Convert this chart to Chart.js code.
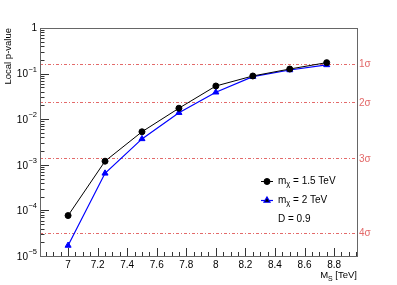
<!DOCTYPE html>
<html><head><meta charset="utf-8">
<script src="https://cdn.jsdelivr.net/npm/chart.js@4/dist/chart.umd.min.js"></script>
<style>html,body{margin:0;padding:0;background:#fff}</style>
</head><body>
<canvas id="c" width="397" height="285"></canvas>
<script>
const massPoints = [7, 7.25, 7.5, 7.75, 8, 8.25, 8.5, 8.75];
const pMchi15 = [7.7e-5, 1.2e-3, 5.3e-3, 0.0174, 0.0535, 0.0886, 0.126, 0.174];
const pMchi20 = [1.7e-5, 6.5e-4, 3.7e-3, 0.0139, 0.039, 0.0855, 0.12, 0.155];
const seriesNames = ['1.5 TeV', '2 TeV'];
const xTickValues = [7, 7.2, 7.4, 7.6, 7.8, 8, 8.2, 8.4, 8.6, 8.8];
const xTickLabels = ['7', '7.2', '7.4', '7.6', '7.8', '8', '8.2', '8.4', '8.6', '8.8'];
const yTickExponents = [-5, -4, -3, -2, -1, 0];
const sigmaPValues = [0.1587, 0.02275, 0.00135, 3.17e-5];
const sigmaLabels = ['1\u03C3', '2\u03C3', '3\u03C3', '4\u03C3'];

const FONT = '"Liberation Sans", Arial, Helvetica, sans-serif';
const SIGMA_COLOR = '#e36a6a';

const decor = {
  id: 'decor',
  afterDraw(chart) {
    const ctx = chart.ctx, a = chart.chartArea;
    const xs = chart.scales.x, ys = chart.scales.y;
    ctx.save();
    ctx.strokeStyle = '#333'; ctx.lineWidth = 1;
    ctx.beginPath();
    const x0 = Math.ceil(xs.min * 20), x1 = Math.floor(xs.max * 20);
    for (let k = x0; k <= x1; k++) {
      const v = k / 20;
      const px = Math.round(xs.getPixelForValue(v)) + 0.5;
      const major = (k % 4 === 0);
      const len = major ? 8 : 4;
      ctx.moveTo(px, a.bottom); ctx.lineTo(px, a.bottom - len);
    }
    for (const e of yTickExponents) {
      for (let m = 1; m <= 9; m++) {
        const v = m * Math.pow(10, e);
        if (v > ys.max * 1.0001) break;
        const py = Math.round(ys.getPixelForValue(v)) + 0.5;
        const len = m === 1 ? 9 : 4.5;
        ctx.moveTo(a.left, py); ctx.lineTo(a.left + len, py);
      }
    }
    ctx.stroke();
    ctx.strokeStyle = '#666';
    ctx.strokeRect(Math.round(a.left) + 0.5, Math.round(a.top) + 0.5, Math.round(a.right - a.left), Math.round(a.bottom - a.top));
    ctx.fillStyle = '#000';
    ctx.textBaseline = 'middle';
    ctx.textAlign = 'right';
    for (const e of yTickExponents) {
      const py = ys.getPixelForValue(Math.pow(10, e));
      const xr = a.left - 3;
      if (e === 0) {
        ctx.font = '10px ' + FONT;
        ctx.fillText('1', xr, py);
      } else {
        ctx.font = '7.5px ' + FONT;
        const sup = '\u2212' + (-e);
        const w = ctx.measureText(sup).width;
        ctx.fillText(sup, xr, py - 4);
        ctx.font = '10px ' + FONT;
        ctx.fillText('10', xr - w - 0.5, py + 1);
      }
    }
    ctx.save();
    ctx.translate(8, a.top);
    ctx.rotate(-Math.PI / 2);
    ctx.font = '9.5px ' + FONT;
    ctx.textAlign = 'right';
    ctx.textBaseline = 'middle';
    ctx.fillText('Local p-value', 0, 0);
    ctx.restore();
    ctx.textBaseline = 'alphabetic';
    ctx.textAlign = 'left';
    ctx.font = '9.5px ' + FONT;
    const t2 = ' [TeV]';
    const wT = ctx.measureText(t2).width;
    const wM = ctx.measureText('M').width;
    ctx.font = '7px ' + FONT;
    const wS = ctx.measureText('S').width;
    let tx = a.right - wT - wS - wM;
    const ty = 278;
    ctx.font = '9.5px ' + FONT;
    ctx.fillText('M', tx, ty);
    ctx.font = '7px ' + FONT;
    ctx.fillText('S', tx + wM, ty + 2.5);
    ctx.font = '9.5px ' + FONT;
    ctx.fillText(t2, tx + wM + wS, ty);
    const ds = chart.data.datasets;
    const lx = 261, lw = 12, tX = 278;
    const rows = [181, 200];
    ds.forEach((d, i) => {
      const y = rows[i];
      ctx.strokeStyle = d.borderColor; ctx.lineWidth = d.borderWidth;
      ctx.beginPath(); ctx.moveTo(lx, y + 0.5); ctx.lineTo(lx + lw, y + 0.5); ctx.stroke();
      Chart.helpers.drawPoint(ctx, {pointStyle: d.pointStyle, radius: d.pointRadius, borderWidth: 1}, lx + lw / 2, y + 0.5);
      ctx.fillStyle = '#000';
      ctx.textBaseline = 'middle';
      ctx.font = '10px ' + FONT;
      ctx.fillText('m', tX, y);
      const wm = ctx.measureText('m').width;
      ctx.font = '7.5px ' + FONT;
      ctx.fillText('\u03C7', tX + wm, y + 3);
      const wc = ctx.measureText('\u03C7').width;
      ctx.font = '10px ' + FONT;
      ctx.fillText(' = ' + seriesNames[i], tX + wm + wc, y);
    });
    ctx.fillStyle = '#000';
    ctx.font = '10px ' + FONT;
    ctx.fillText('D = 0.9', tX, 219);
    ctx.restore();
  }
};

function pts(ys) { return massPoints.map((x, i) => ({x: x, y: ys[i]})); }

new Chart(document.getElementById('c'), {
  type: 'line',
  data: {
    datasets: [
      {label: 'm_chi = 1.5 TeV', data: pts(pMchi15), borderColor: '#000', backgroundColor: '#000',
       borderWidth: 1, pointStyle: 'circle', pointRadius: 3, pointBorderWidth: 1, tension: 0},
      {label: 'm_chi = 2 TeV', data: pts(pMchi20), borderColor: '#0000ff', backgroundColor: '#0000ff',
       borderWidth: 1.2, pointStyle: 'triangle', pointRadius: 3.5, pointBorderWidth: 1, tension: 0}
    ]
  },
  options: {
    responsive: false, animation: false, devicePixelRatio: 1,
    layout: {padding: {left: 0, right: 0, top: 28, bottom: 0}},
    plugins: {legend: {display: false}, tooltip: {enabled: false}},
    scales: {
      x: {
        type: 'linear', min: 6.81, max: 8.955,
        afterBuildTicks: s => { s.ticks = xTickValues.map(v => ({value: v})); },
        ticks: {callback: (v, i) => xTickLabels[i], font: {family: FONT, size: 10}, color: '#000',
                padding: 3, maxRotation: 0, autoSkip: false},
        grid: {display: false, drawTicks: false}, border: {display: false},
        afterFit: s => { s.height = 29; }
      },
      y: {
        type: 'logarithmic', position: 'left', min: 1e-5, max: 1,
        ticks: {display: false}, grid: {display: false, drawTicks: false}, border: {display: false},
        afterFit: s => { s.width = 40; }
      },
      y2: {
        type: 'logarithmic', position: 'right', min: 1e-5, max: 1,
        afterBuildTicks: s => { s.ticks = sigmaPValues.map(v => ({value: v})); },
        ticks: {callback: (v, i) => sigmaLabels[i], color: SIGMA_COLOR, font: {family: FONT, size: 10},
                padding: 2, autoSkip: false},
        grid: {display: true, drawOnChartArea: true, drawTicks: false, color: SIGMA_COLOR, lineWidth: 1},
        border: {display: false, dash: [3, 2, 1, 2]},
        afterFit: s => { s.width = 40; }
      }
    }
  },
  plugins: [decor]
});
</script>
</body></html>
